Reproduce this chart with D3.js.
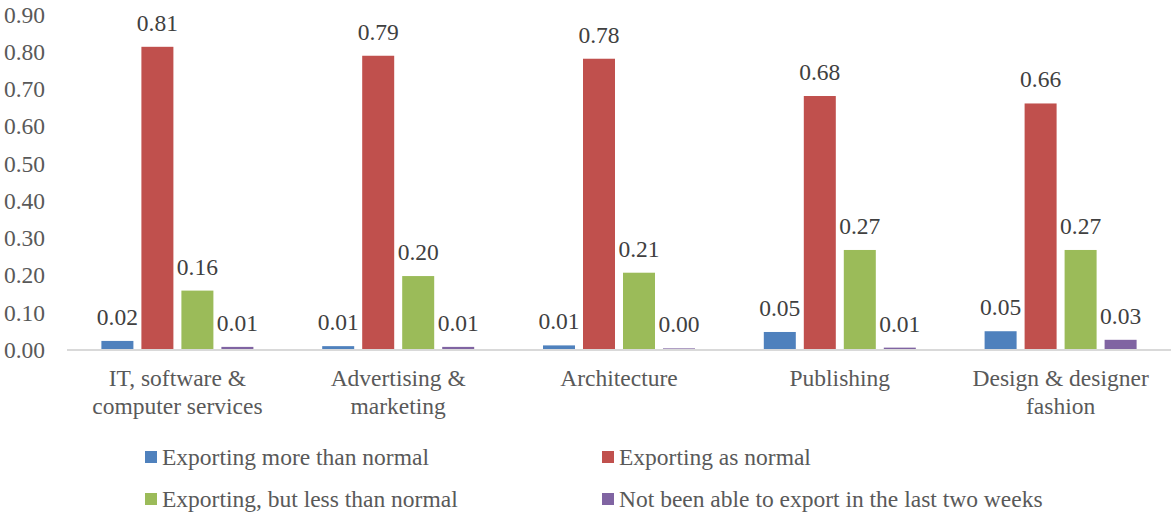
<!DOCTYPE html>
<html>
<head>
<meta charset="utf-8">
<script src="https://cdn.jsdelivr.net/npm/d3@7"></script>
<style>
  html, body { margin: 0; padding: 0; background: #fff; }
  svg { display: block; }
  svg text, svg tspan { font-family: 'Liberation Serif', serif !important; }
</style>
</head>
<body>
<svg id="chart" width="1171" height="515" font-family="Liberation Serif"></svg>
<script>
const categories = [
  ["IT, software &", "computer services"],
  ["Advertising &", "marketing"],
  ["Architecture"],
  ["Publishing"],
  ["Design & designer", "fashion"]
];
const seriesNames = [
  "Exporting more than normal",
  "Exporting as normal",
  "Exporting, but less than normal",
  "Not been able to export in the last two weeks"
];
const moreThanNormal = [0.023, 0.009, 0.011, 0.047, 0.049];
const asNormal       = [0.812, 0.788, 0.780, 0.680, 0.660];
const lessThanNormal = [0.158, 0.197, 0.206, 0.267, 0.267];
const notAble        = [0.007, 0.007, 0.003, 0.005, 0.026];
const yTicks = [0, 0.1, 0.2, 0.3, 0.4, 0.5, 0.6, 0.7, 0.8, 0.9];
const colors = ["#4F81BD", "#C0504D", "#9BBB59", "#8064A2"];

const seriesValues = [moreThanNormal, asNormal, lessThanNormal, notAble];

const FONT = "Liberation Serif";
const FS = 23.5;

const svg = d3.select("#chart");
const left = 67, right = 1171, y0px = 349.5, y9px = 14;

const y = d3.scaleLinear().domain([0, 0.9]).range([y0px, y9px]);
const x0 = d3.scaleBand().domain(d3.range(categories.length)).range([left, right]).padding(0);
const groupW = 152;
const x1 = d3.scaleBand().domain(d3.range(seriesNames.length))
  .range([(x0.bandwidth() - groupW) / 2, (x0.bandwidth() + groupW) / 2])
  .paddingInner(0.2).paddingOuter(0);

// Y axis labels
const yAxis = d3.axisLeft(y).tickValues(yTicks).tickFormat(d3.format(".2f")).tickSize(0).tickPadding(0);
const gy = svg.append("g").attr("transform", `translate(45,0)`).call(yAxis);
gy.attr("font-family", FONT).attr("font-size", FS);
gy.select(".domain").remove();
gy.selectAll("text")
  .attr("font-family", FONT)
  .attr("font-size", FS).attr("fill", "#595959").attr("dy", "0.34em");

// Bars
const groups = svg.append("g").selectAll("g")
  .data(categories.map((c, i) => i))
  .join("g")
  .attr("transform", i => `translate(${x0(i)},0)`);

groups.selectAll("rect")
  .data(i => seriesValues.map((s, k) => ({ k, v: s[i] })))
  .join("rect")
  .attr("x", d => x1(d.k))
  .attr("width", x1.bandwidth())
  .attr("y", d => y(d.v))
  .attr("height", d => y(0) - y(d.v))
  .attr("fill", d => colors[d.k]);

groups.selectAll("text.lbl")
  .data(i => seriesValues.map((s, k) => ({ k, v: s[i] })))
  .join("text")
  .attr("class", "lbl")
  .attr("x", d => x1(d.k) + x1.bandwidth() / 2)
  .attr("y", d => y(d.v) - 16)
  .attr("text-anchor", "middle")
  .attr("font-family", FONT)
  .attr("font-size", FS)
  .attr("fill", "#404040")
  .text(d => d3.format(".2f")(d.v));

// X axis line
svg.append("line")
  .attr("x1", left).attr("x2", right)
  .attr("y1", y(0) + 0.5).attr("y2", y(0) + 0.5)
  .attr("stroke", "#D9D9D9").attr("stroke-width", 2);

// Category labels
const xAxis = d3.axisBottom(x0).tickSize(0).tickFormat(() => "");
const gx = svg.append("g").attr("transform", `translate(0,${y(0)})`).call(xAxis);
gx.attr("font-family", FONT).attr("font-size", FS);
gx.select(".domain").remove();
gx.selectAll(".tick text").remove();
gx.selectAll(".tick").each(function(i) {
  const t = d3.select(this).append("text")
    .attr("text-anchor", "middle")
    .attr("font-family", FONT)
    .attr("font-size", FS)
    .attr("fill", "#595959");
  categories[i].forEach((line, j) => {
    t.append("tspan").attr("x", 0).attr("y", 36 + j * 28.5).text(line);
  });
});

// Legend
const legendPos = [[145, 457], [602, 457], [145, 499], [602, 499]];
const lg = svg.append("g").selectAll("g").data(seriesNames).join("g")
  .attr("transform", (d, i) => `translate(${legendPos[i][0]},${legendPos[i][1]})`);
lg.append("rect").attr("x", 0).attr("y", -6).attr("width", 12).attr("height", 12)
  .attr("fill", (d, i) => colors[i]);
lg.append("text").attr("x", 17).attr("y", 0).attr("dy", "0.34em")
  .attr("font-family", FONT)
  .attr("font-size", FS).attr("fill", "#595959").text(d => d);
</script>
</body>
</html>
